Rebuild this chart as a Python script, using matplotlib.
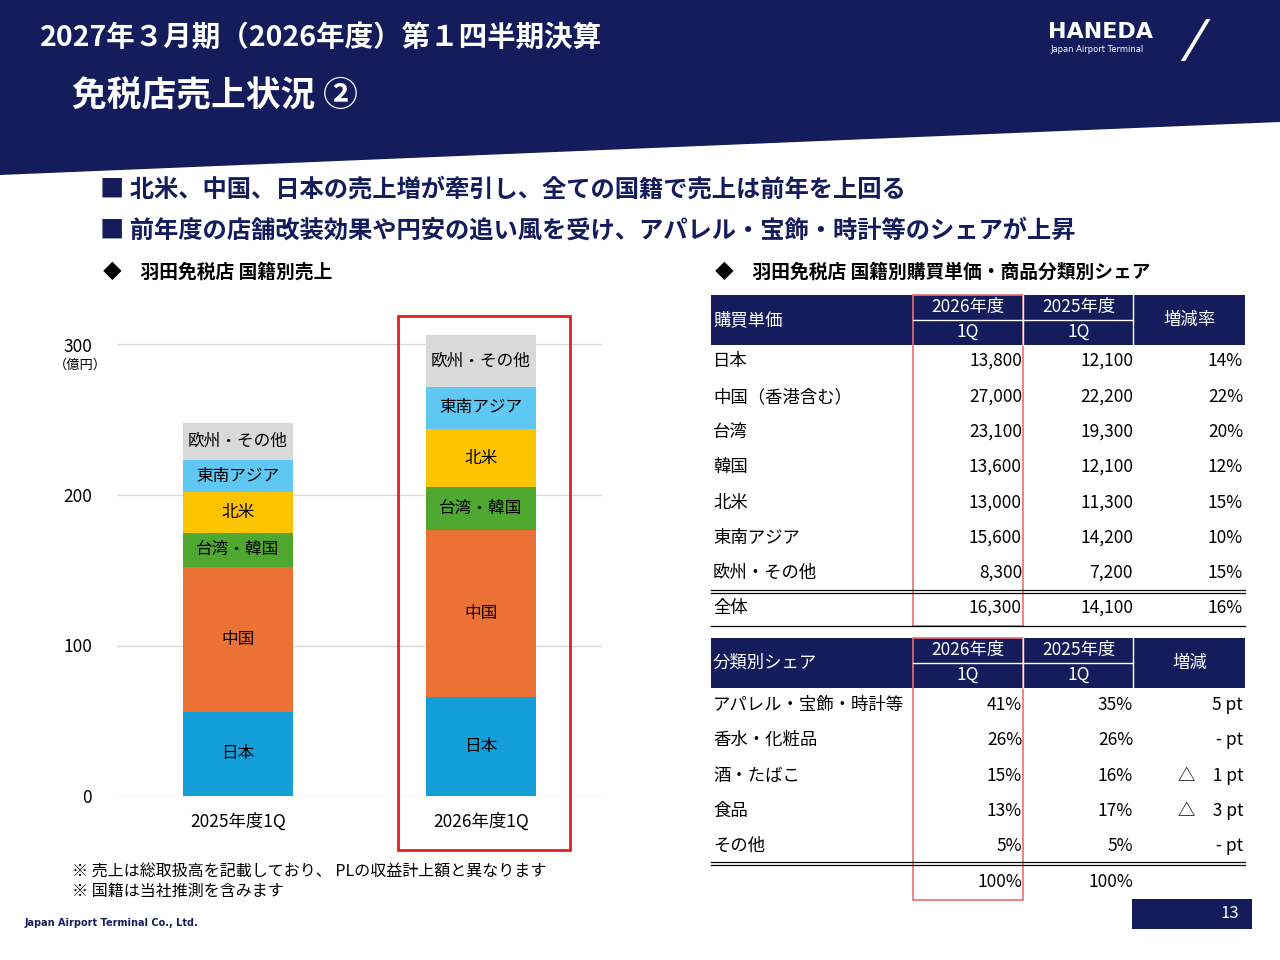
import matplotlib
matplotlib.use("Agg")
import matplotlib.pyplot as plt
from matplotlib.patches import Polygon, Rectangle
from matplotlib.lines import Line2D

plt.rcParams['font.family'] = ['Noto Sans CJK JP', 'DejaVu Sans']

years = ["2025年度1Q", "2026年度1Q"]
segments = ["日本", "中国", "台湾・韓国", "北米", "東南アジア", "欧州・その他"]
seg_colors = ["#159fd9", "#ec7134", "#4ea72e", "#fcc400", "#5ec8f2", "#d9d9d9"]
values = {
    "日本": [56, 66],
    "中国": [96, 111],
    "台湾・韓国": [23, 28],
    "北米": [27, 39],
    "東南アジア": [21, 28],
    "欧州・その他": [25, 34],
}
yticks = [0, 100, 200, 300]

t1_rows = ["日本", "中国（香港含む）", "台湾", "韓国", "北米", "東南アジア", "欧州・その他", "全体"]
t1_2026 = ["13,800", "27,000", "23,100", "13,600", "13,000", "15,600", "8,300", "16,300"]
t1_2025 = ["12,100", "22,200", "19,300", "12,100", "11,300", "14,200", "7,200", "14,100"]
t1_rate = ["14%", "22%", "20%", "12%", "15%", "10%", "15%", "16%"]

t2_rows = ["アパレル・宝飾・時計等", "香水・化粧品", "酒・たばこ", "食品", "その他", ""]
t2_2026 = ["41%", "26%", "15%", "13%", "5%", "100%"]
t2_2025 = ["35%", "26%", "16%", "17%", "5%", "100%"]
t2_diff = ["5 pt", "- pt", "△　1 pt", "△　3 pt", "- pt", ""]

W, H = 1280, 960
NAVY = "#141c5c"
fig = plt.figure(figsize=(12.8, 9.6), dpi=100)

def fx(x): return x / W
def fy(y): return 1 - y / H
def T(x, y, s, **kw):
    kw.setdefault("va", "center")
    fig.text(fx(x), fy(y), s, **kw)
def hline(x0, x1, y, c="black", lw=1):
    fig.add_artist(Line2D([fx(x0), fx(x1)], [fy(y), fy(y)], color=c, lw=lw))
def rect(x0, y0, x1, y1, fc="none", ec="none", lw=1):
    fig.add_artist(Rectangle((fx(x0), fy(y1)), fx(x1) - fx(x0), fy(y0) - fy(y1),
                             fc=fc, ec=ec, lw=lw, transform=fig.transFigure))

# header
fig.add_artist(Polygon([(0, 1), (1, 1), (1, fy(122)), (0, fy(175))], closed=True,
                       fc=NAVY, ec="none", transform=fig.transFigure))
T(40, 38, "2027年３月期（2026年度）第１四半期決算", color="white", fontsize=20.5, fontweight="bold")
T(72, 96, "免税店売上状況 ②", color="white", fontsize=25, fontweight="bold")
T(1048, 32, "HANEDA", color="white", fontsize=16, fontweight="bold", family="DejaVu Sans")
T(1050, 49, "Japan Airport Terminal", color="white", fontsize=6, family="DejaVu Sans")
T(1190, 45, "⁄", color="white", fontsize=40, family="DejaVu Sans")

T(100, 190, "■ 北米、中国、日本の売上増が牽引し、全ての国籍で売上は前年を上回る", color=NAVY, fontsize=17.5, fontweight="bold")
T(100, 231, "■ 前年度の店舗改装効果や円安の追い風を受け、アパレル・宝飾・時計等のシェアが上昇", color=NAVY, fontsize=17.5, fontweight="bold")
T(103, 272, "◆　羽田免税店 国籍別売上", color="black", fontsize=13.5, fontweight="bold")
T(715, 272, "◆　羽田免税店 国籍別購買単価・商品分類別シェア", color="black", fontsize=13.5, fontweight="bold")

# chart
ytop = 310
ax = fig.add_axes([fx(117), fy(796), fx(602) - fx(117), fy(796 - ytop * 1.505) - fy(796)])
xs = [0.249, 0.75]
bottom = [0, 0]
for seg, col in zip(segments, seg_colors):
    v = values[seg]
    ax.bar(xs, v, width=0.227, bottom=bottom, color=col, zorder=3)
    for i in range(2):
        ax.text(xs[i], bottom[i] + v[i] / 2, seg, ha="center", va="center", fontsize=12, zorder=4)
    bottom = [bottom[i] + v[i] for i in range(2)]
ax.set_xlim(0, 1)
ax.set_ylim(0, ytop)
for t in yticks:
    ax.axhline(t, color="#d9d9d9", lw=1, zorder=1)
ax.set_yticks(yticks)
ax.tick_params(length=0, labelsize=12.5, pad=18)
ax.set_xticks(xs)
ax.set_xticklabels(years)
ax.tick_params(axis="x", pad=12)
for s in ax.spines.values():
    s.set_visible(False)
ax.patch.set_alpha(0)
T(80, 365, "（億円）", fontsize=9.5, ha="center")
rect(398, 316, 570, 850, ec="#e02020", lw=2)

T(72, 872, "※ 売上は総取扱高を記載しており、 PLの収益計上額と異なります", fontsize=11.5)
T(72, 891, "※ 国籍は当社推測を含みます", fontsize=11.5)
T(25, 923, "Japan Airport Terminal Co., Ltd.", fontsize=7, fontweight="bold", color=NAVY, family="DejaVu Sans")
rect(1132, 899, 1252, 929, fc=NAVY)
T(1230, 914, "13", color="white", fontsize=12, ha="center")

# tables
def table(y0, title, rows, c1, c2, c3, h3, row_ys, dbl_y, end_y):
    rect(711, y0, 1245, y0 + 50, fc=NAVY)
    hline(913, 1133, y0 + 25, c="white")
    fig.add_artist(Line2D([fx(1023), fx(1023)], [fy(y0), fy(y0 + 50)], color="white", lw=1))
    fig.add_artist(Line2D([fx(1133), fx(1133)], [fy(y0), fy(y0 + 50)], color="white", lw=1))
    T(713, y0 + 25, title, color="white", fontsize=12.5)
    T(968, y0 + 12, "2026年度", color="white", fontsize=12.5, ha="center")
    T(968, y0 + 37, "1Q", color="white", fontsize=12.5, ha="center")
    T(1079, y0 + 12, "2025年度", color="white", fontsize=12.5, ha="center")
    T(1079, y0 + 37, "1Q", color="white", fontsize=12.5, ha="center")
    T(1190, y0 + 25, h3, color="white", fontsize=12.5, ha="center")
    for r, a, b, c, y in zip(rows, c1, c2, c3, row_ys):
        T(713, y, r, fontsize=12.5)
        T(1022, y, a, fontsize=12.5, ha="right")
        T(1133, y, b, fontsize=12.5, ha="right")
        T(1243, y, c, fontsize=12.5, ha="right")
    hline(711, 1245, dbl_y, lw=0.9)
    hline(711, 1245, dbl_y + 3, lw=0.9)
    if end_y:
        hline(711, 1245, end_y, lw=0.9)
    rect(913, y0, 1023, (end_y or dbl_y + 38) + 0, ec="#e87070", lw=1.2)

table(295, "購買単価", t1_rows, t1_2026, t1_2025, t1_rate, "増減率",
      [361, 397, 432, 467, 503, 538, 573, 608], 590, 626)
table(638, "分類別シェア", t2_rows, t2_2026, t2_2025, t2_diff, "増減",
      [705, 740, 776, 811, 846, 882], 862, None)

fig.savefig("out.png", dpi=100)
